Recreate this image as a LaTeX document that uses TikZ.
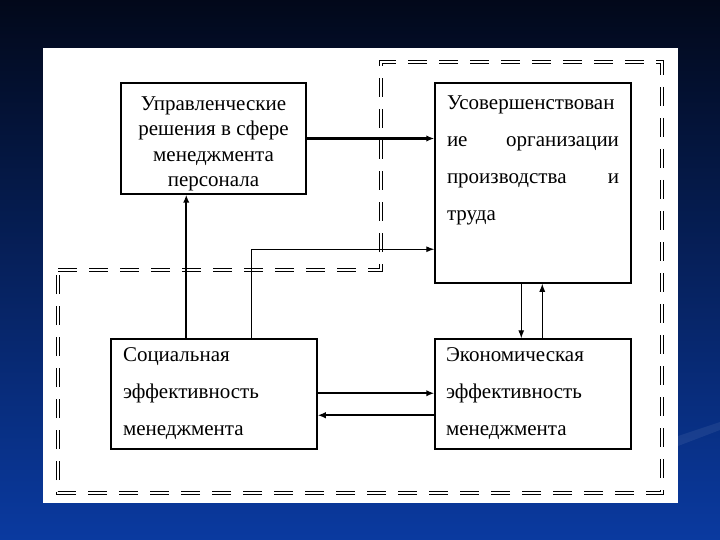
\documentclass[tikz,border=0pt]{standalone}
\usepackage{fontspec}
\setmainfont{Liberation Serif}
\usetikzlibrary{arrows.meta, calc}

\definecolor{slidetop}{RGB}{2,8,26}
\definecolor{slidemid}{RGB}{7,38,118}
\definecolor{slidebot}{RGB}{10,58,160}

\begin{document}
\begin{tikzpicture}[x=1pt, y=-1pt,
	box/.style={draw, line width=1.5pt, fill=white, inner sep=0pt},
	thickarrow/.style={line width=2.2pt, -{Latex[length=8pt, width=6.5pt]}},
	thinarrow/.style={line width=1pt, -{Latex[length=8pt, width=6pt]}},
	frameline/.style={double, double distance=1.6pt, line width=1.3pt, dash pattern=on 19pt off 12pt}]
	\useasboundingbox (0,0) rectangle (720,540);
	% slide background and sheet
	\shade[top color=slidetop, middle color=slidemid, bottom color=slidebot] (0,0) rectangle (720,540);
	\fill[white, opacity=0.07] (678,436) -- (720,422) -- (720,430) -- (678,446) -- cycle;
	\fill[white] (43,48) rectangle (678,503);
	% dashed boundary
	\draw[frameline] (58,270) -- (381,270) -- (381,62) -- (662,62) -- (662,493) -- (58,493) -- cycle;
	% blocks
	\node[box, minimum width=185pt, minimum height=111pt, font=\fontsize{21}{25.5}\selectfont] (upr) at (213.5,138.5)
		{\parbox[t][103pt][c]{175pt}{\centering\vspace*{11pt}Управленческие\\ решения в сфере\\ менеджмента\\ персонала}};
	\node[box, minimum width=196pt, minimum height=200pt, font=\fontsize{21}{37}\selectfont] (usov) at (533,183)
		{\parbox[t][174pt][t]{172pt}{Усовершенствован\\ ие\hfill организации\\ производства\hfill и\\ труда}};
	\node[box, minimum width=206pt, minimum height=110pt, text width=182pt, align=left,
		font=\fontsize{21}{37}\selectfont] (soc) at (214,394)
		{Социальная\\ эффективность\\ менеджмента};
	\node[box, minimum width=196pt, minimum height=110pt, text width=174pt, align=left,
		font=\fontsize{21}{37}\selectfont] (eko) at (533,394)
		{Экономическая\\ эффективность\\ менеджмента};
	% links
	\coordinate (socup) at ([xshift=76pt]soc.north west);
	\coordinate (socside) at ([xshift=141pt]soc.north west);
	\coordinate (usovin) at ([yshift=-167pt]usov.north west);
	\draw[thickarrow] (upr.east) -- (upr.east -| usov.west);
	\draw[thickarrow] (socup) -- (socup |- upr.south);
	\draw[thinarrow] (socside) |- (usovin);
	\draw[thinarrow] ([xshift=87pt]usov.south west) -- ([xshift=87pt]eko.north west);
	\draw[thinarrow] ([xshift=108pt]eko.north west) -- ([xshift=108pt]usov.south west);
	\coordinate (socout) at ([yshift=-55pt]soc.north east);
	\coordinate (ekoout) at ([yshift=-77pt]eko.north west);
	\draw[thickarrow] (socout) -- (socout -| eko.west);
	\draw[thickarrow] (ekoout) -- (ekoout -| soc.east);
\end{tikzpicture}
\end{document}
